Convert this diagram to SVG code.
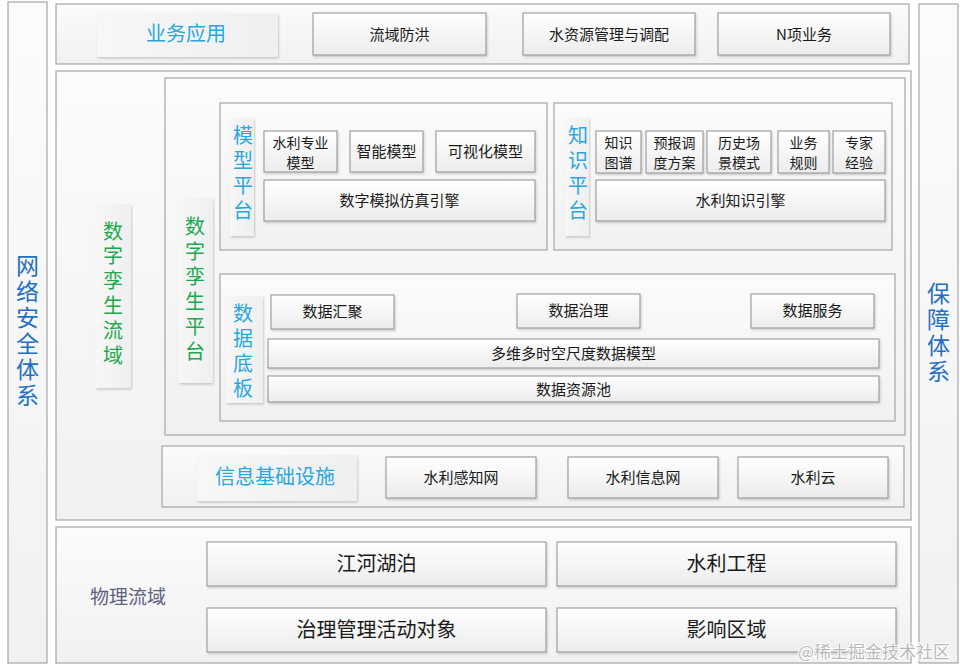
<svg xmlns="http://www.w3.org/2000/svg" width="960" height="667" viewBox="0 0 960 667">
<defs>
<linearGradient id="gBox" x1="0" y1="0" x2="0" y2="1">
<stop offset="0" stop-color="#ffffff"/>
<stop offset="1" stop-color="#ececec"/>
</linearGradient>
<linearGradient id="gPanel" x1="0" y1="0" x2="0" y2="1">
<stop offset="0" stop-color="#fbfbfb"/>
<stop offset="1" stop-color="#f1f1f1"/>
</linearGradient>
<linearGradient id="gLab" x1="0" y1="0" x2="1" y2="0">
<stop offset="0" stop-color="#f7f7f7"/>
<stop offset="1" stop-color="#efefef"/>
</linearGradient>
<filter id="sh" x="-5%" y="-10%" width="110%" height="130%">
<feDropShadow dx="1" dy="1.5" stdDeviation="1" flood-color="#000" flood-opacity="0.18"/>
</filter>
</defs>
<style>
text{font-family:"Noto Sans CJK SC","Liberation Sans",sans-serif;text-anchor:middle;dominant-baseline:central}
.v{writing-mode:vertical-rl;text-anchor:start}
.panel{fill:url(#gPanel);stroke:#a6a6a6;stroke-width:1.2}
.box{fill:url(#gBox);stroke:#8f8f8f;stroke-width:1;filter:url(#sh)}
.lab{fill:url(#gLab);stroke:none;filter:url(#sh)}
.t{font-size:15px;fill:#1a1a1a}
.t2{font-size:14px;fill:#1a1a1a}
.tb{font-size:20px;fill:#1a1a1a}
.cy{font-size:20px;fill:#2aa7de}
.gr{font-size:20px;fill:#1fa84f}
.bl{font-size:23px;fill:#1f6fc2}
.ph{font-size:19px;fill:#5f5f80}
</style>
<rect width="960" height="667" fill="#ffffff"/>

<g id="security">
<rect class="panel" x="8" y="2" width="39" height="661"/>
<text class="bl v" x="27.5" y="253.5" letter-spacing="3">网络安全体系</text>
</g>
<g id="guarantee">
<rect class="panel" x="919" y="4" width="39" height="659"/>
<text class="bl v" x="938.5" y="281.5" letter-spacing="3">保障体系</text>
</g>

<g id="business">
<rect class="panel" x="56" y="4" width="853" height="60"/>
<rect class="lab" x="97" y="13" width="181" height="44"/>
<text class="cy" x="186" y="32">业务应用</text>
<rect class="box" x="313" y="13" width="173" height="42"/>
<text class="t" x="399.5" y="33">流域防洪</text>
<rect class="box" x="523" y="13" width="172" height="42"/>
<text class="t" x="609" y="33">水资源管理与调配</text>
<rect class="box" x="718" y="13" width="172" height="42"/>
<text class="t" x="804" y="33">N项业务</text>
</g>

<g id="twin-basin">
<rect class="panel" x="56" y="71" width="855" height="449"/>
<rect class="lab" x="95" y="204" width="36" height="184"/>
<text class="gr v" x="113" y="221" letter-spacing="4.8">数字孪生流域</text>
</g>

<g id="twin-platform">
<rect class="panel" x="165" y="78" width="740" height="357"/>
<rect class="lab" x="178" y="198" width="35" height="185"/>
<text class="gr v" x="195" y="216" letter-spacing="5">数字孪生平台</text>
</g>

<g id="model-platform">
<rect class="panel" x="220" y="103" width="327" height="147"/>
<rect class="lab" x="230" y="118" width="24" height="118"/>
<text class="cy v" x="243" y="125" letter-spacing="5">模型平台</text>
<rect class="box" x="264" y="131" width="73" height="41"/>
<text class="t2" x="300.5" y="141.5">水利专业</text>
<text class="t2" x="300.5" y="162">模型</text>
<rect class="box" x="350" y="131" width="73" height="41"/>
<text class="t" x="386.5" y="150.5">智能模型</text>
<rect class="box" x="436" y="131" width="99" height="41"/>
<text class="t" x="485.5" y="150.5">可视化模型</text>
<rect class="box" x="264" y="180" width="271" height="41"/>
<text class="t" x="399.5" y="199.5">数字模拟仿真引擎</text>
</g>

<g id="knowledge-platform">
<rect class="panel" x="554" y="103" width="338" height="147"/>
<rect class="lab" x="565" y="118" width="24" height="118"/>
<text class="cy v" x="578" y="125" letter-spacing="5">知识平台</text>
<rect class="box" x="596" y="131" width="45" height="42"/>
<text class="t2" x="618.5" y="141.5">知识</text>
<text class="t2" x="618.5" y="162">图谱</text>
<rect class="box" x="646" y="131" width="57" height="42"/>
<text class="t2" x="674.5" y="141.5">预报调</text>
<text class="t2" x="674.5" y="162">度方案</text>
<rect class="box" x="707" y="131" width="64" height="42"/>
<text class="t2" x="739" y="141.5">历史场</text>
<text class="t2" x="739" y="162">景模式</text>
<rect class="box" x="778" y="131" width="51" height="42"/>
<text class="t2" x="803.5" y="141.5">业务</text>
<text class="t2" x="803.5" y="162">规则</text>
<rect class="box" x="833" y="131" width="52" height="42"/>
<text class="t2" x="859" y="141.5">专家</text>
<text class="t2" x="859" y="162">经验</text>
<rect class="box" x="596" y="180" width="289" height="41"/>
<text class="t" x="740.5" y="199.5">水利知识引擎</text>
</g>

<g id="data-base">
<rect class="panel" x="220" y="274" width="675" height="147"/>
<rect class="lab" x="226" y="296" width="37" height="107"/>
<text class="cy v" x="243" y="303" letter-spacing="5">数据底板</text>
<rect class="box" x="271" y="295" width="123" height="34"/>
<text class="t" x="332.5" y="310.5">数据汇聚</text>
<rect class="box" x="517" y="294" width="123" height="34"/>
<text class="t" x="578.5" y="309.5">数据治理</text>
<rect class="box" x="751" y="294" width="123" height="34"/>
<text class="t" x="812.5" y="309.5">数据服务</text>
<rect class="box" x="268" y="339" width="611" height="29"/>
<text class="t" x="573.5" y="352.5">多维多时空尺度数据模型</text>
<rect class="box" x="268" y="376" width="611" height="26"/>
<text class="t" x="573.5" y="388">数据资源池</text>
</g>

<g id="info-infra">
<rect class="panel" x="162" y="446" width="742" height="61"/>
<rect class="lab" x="197" y="455" width="160" height="46"/>
<text class="cy" x="275" y="475">信息基础设施</text>
<rect class="box" x="386" y="457" width="150" height="41"/>
<text class="t" x="461" y="476.5">水利感知网</text>
<rect class="box" x="568" y="457" width="150" height="41"/>
<text class="t" x="643" y="476.5">水利信息网</text>
<rect class="box" x="738" y="457" width="150" height="41"/>
<text class="t" x="813" y="476.5">水利云</text>
</g>

<g id="physical">
<rect class="panel" x="56" y="527" width="855" height="136"/>
<text class="ph" x="128" y="595">物理流域</text>
<rect class="box" x="207" y="542" width="339" height="44"/>
<text class="tb" x="376.5" y="562">江河湖泊</text>
<rect class="box" x="557" y="542" width="339" height="44"/>
<text class="tb" x="726.5" y="562">水利工程</text>
<rect class="box" x="207" y="608" width="339" height="44"/>
<text class="tb" x="376.5" y="628">治理管理活动对象</text>
<rect class="box" x="557" y="608" width="339" height="44"/>
<text class="tb" x="726.5" y="628">影响区域</text>
</g>

<g id="connectors"></g>

<text x="874" y="650" style="font-size:17px;fill:#b8b8b8;font-family:'Noto Sans CJK SC','Liberation Serif',serif;stroke:#ffffff;stroke-width:2;paint-order:stroke">@稀土掘金技术社区</text>
</svg>
